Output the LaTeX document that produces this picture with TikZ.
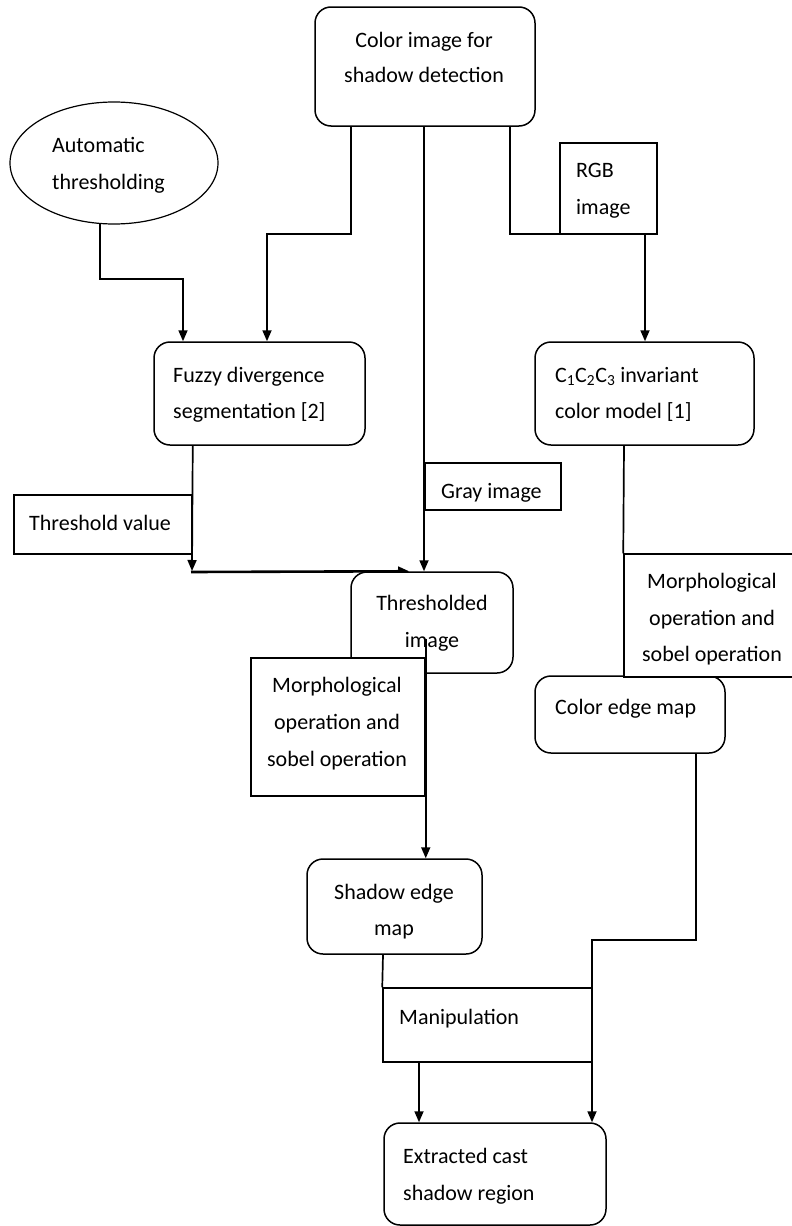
\documentclass[tikz,border=0pt]{standalone}
\usepackage{fontspec}
\setmainfont{Carlito}
\usetikzlibrary{arrows.meta,shapes.geometric,backgrounds}
\newcommand\txtline[5]{\node[txt, anchor=#4] (#1) at (#2,#3) {#5};}
\begin{document}
\begin{tikzpicture}[x=1pt,y=-1pt,
  box/.style={draw, line width=1.5pt, fill=white, inner sep=0pt},
  rbox/.style={box, rounded corners=16pt},
  txt/.style={inner sep=0pt, font=\fontsize{22}{26}\selectfont},
  conn/.style={line width=1.7pt},
  arr/.style={conn, -{Triangle[length=11pt,width=9pt]}}]
\useasboundingbox (0,0) rectangle (792,1226);

% boxes
\node[rbox, minimum width=220pt, minimum height=119pt] (top) at (425,66.5) {};
\node[draw, ellipse, line width=1.2pt, fill=white, minimum width=208pt, minimum height=122pt] (ell) at (114,163) {};
\node[box, minimum width=97pt, minimum height=91pt] (rgb) at (608.5,188.5) {};
\node[rbox, minimum width=211pt, minimum height=103pt] (fz) at (259.5,393.5) {};
\node[rbox, minimum width=219pt, minimum height=103pt] (c123) at (644.5,393.5) {};
\node[box, minimum width=136pt, minimum height=47pt] (gray) at (493,486.5) {};
\node[box, minimum width=178pt, minimum height=59pt] (tv) at (103,524.5) {};
\node[rbox, minimum width=162pt, minimum height=101pt] (thr) at (432,622.5) {};
\node[box, minimum width=174pt, minimum height=138pt] (mL) at (338,727) {};
\node[rbox, minimum width=190pt, minimum height=77pt] (ce) at (630,714.5) {};
\node[box, minimum width=180pt, minimum height=123pt] (mR) at (714,615.5) {};
\node[rbox, minimum width=175pt, minimum height=95pt] (se) at (394.5,906.5) {};
\node[box, minimum width=209pt, minimum height=74pt] (manip) at (487.5,1025) {};
\node[rbox, minimum width=222pt, minimum height=102pt] (ext) at (495,1174) {};

% connectors under the boxes
\begin{pgfonlayer}{background}
\draw[arr] ([xshift=-74pt]top.south) |- (267,234) -- ([xshift=7.5pt]fz.north);
\draw[arr] ([xshift=-1pt]top.south) -- ([xshift=-8pt]thr.north);
\draw[arr] ([xshift=85pt]top.south) |- (645,234) -- ([xshift=0.5pt]c123.north);
\draw[arr] ([xshift=-14pt,yshift=1pt]ell.south) |- (183,279) -- ([xshift=-76.5pt]fz.north);
\draw[arr] (fz.south -| tv.east) -- (192,571);
\coordinate (tvj) at (191,572);
\draw[arr, line width=2.6pt] (tvj) -- ([xshift=59pt]thr.north west);
\draw[conn] ([xshift=-20.5pt]c123.south) -- (mR.north west);
\draw[arr] ([xshift=66pt]ce.south) |- (592,940) -- ([xshift=97pt]ext.north);
\draw[conn] ([xshift=-11.5pt]se.south) -- (manip.north west);
\draw[arr] ([xshift=-68.5pt]manip.south) -- ([xshift=-76pt]ext.north);
\end{pgfonlayer}
\draw[arr] ([yshift=-16pt]thr.center -| mL.east) -- (se.north -| mL.east);

% texts
\txtline{topA}{424}{47}{base}{Color image for}
\txtline{topB}{424}{82}{base}{shadow detection}
\txtline{ellA}{52}{152}{base west}{Automatic}
\txtline{ellB}{52}{189}{base west}{thresholding}
\txtline{rgbA}{576}{177}{base west}{RGB}
\txtline{rgbB}{576}{214}{base west}{image}
\txtline{fzA}{173}{382}{base west}{Fuzzy divergence}
\txtline{fzB}{173}{418}{base west}{segmentation [2]}
\txtline{cA}{555}{382}{base west}{C\textsubscript{1}C\textsubscript{2}C\textsubscript{3} invariant}
\txtline{cB}{555}{418}{base west}{color model [1]}
\txtline{grayA}{441}{498}{base west}{Gray image}
\txtline{tvA}{29}{530}{base west}{Threshold value}
\txtline{thrA}{432}{610}{base}{Thresholded}
\txtline{thrB}{432}{647}{base}{image}
\txtline{mLA}{337}{692}{base}{Morphological}
\txtline{mLB}{337}{729}{base}{operation and}
\txtline{mLC}{337}{766}{base}{sobel operation}
\txtline{mRA}{712}{588}{base}{Morphological}
\txtline{mRB}{712}{625}{base}{operation and}
\txtline{mRC}{712}{661}{base}{sobel operation}
\txtline{ceA}{555}{714}{base west}{Color edge map}
\txtline{seA}{394}{899}{base}{Shadow edge}
\txtline{seB}{394}{935}{base}{map}
\txtline{manA}{399}{1024}{base west}{Manipulation}
\txtline{extA}{403}{1163}{base west}{Extracted cast}
\txtline{extB}{403}{1200}{base west}{shadow region}
\end{tikzpicture}
\end{document}
